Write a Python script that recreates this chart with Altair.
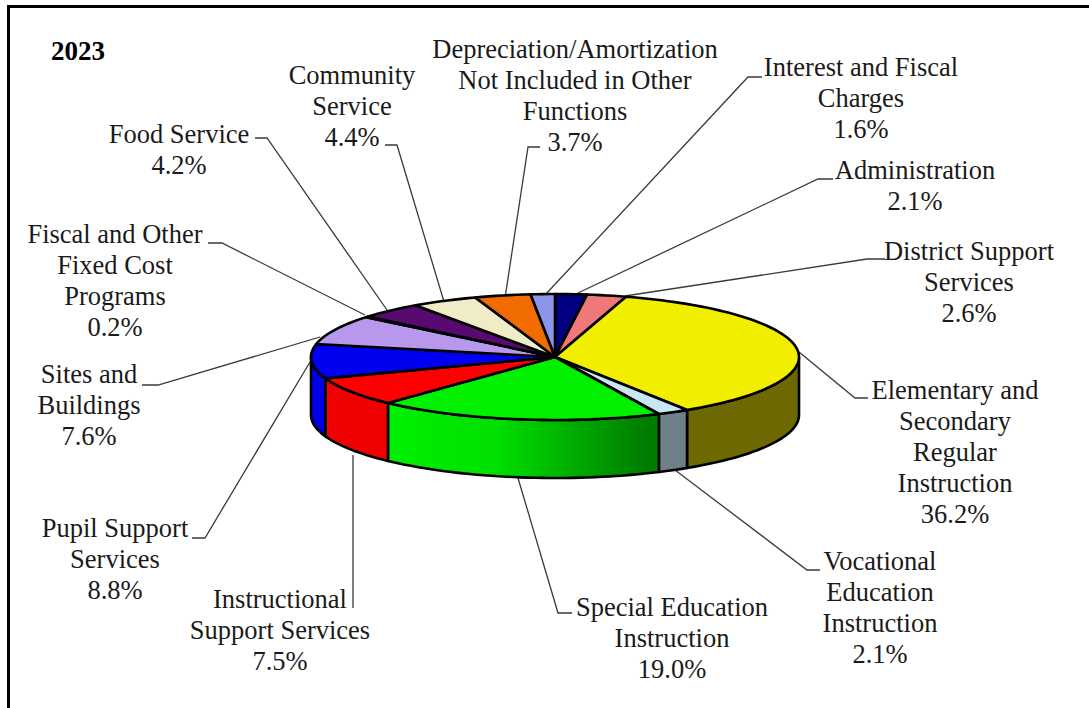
import math
import altair as alt
import pandas as pd

# Shares in pie order, clockwise from twelve o'clock
names = [
    "Administration",
    "District Support\nServices",
    "Elementary and\nSecondary\nRegular\nInstruction",
    "Vocational\nEducation\nInstruction",
    "Special Education\nInstruction",
    "Instructional\nSupport Services",
    "Pupil Support\nServices",
    "Sites and\nBuildings",
    "Fiscal and Other\nFixed Cost\nPrograms",
    "Food Service",
    "Community\nService",
    "Depreciation/Amortization\nNot Included in Other\nFunctions",
    "Interest and Fiscal\nCharges",
]
shares = [2.1, 2.6, 36.2, 2.1, 19.0, 7.5, 8.8, 7.6, 0.2, 4.2, 4.4, 3.7, 1.6]
top_colors = ["#000080", "#F07878", "#F2EE00", "#C8E6F4", "#00F000", "#FF0000", "#0000F0",
              "#B898EC", "#8A2060", "#580A70", "#F0ECC8", "#F06C00", "#8C96E8"]
side_colors = ["#000040", "#803C3C", "#6E6800", "#6C8288", None, "#F00000", "#0000E8",
               "#5C4C76", "#451030", "#2C0538", "#78765F", "#783600", "#464B74"]

# Label centre and first-line top
label_x = [915, 969, 955, 880, 672, 280, 115, 89, 115, 179, 352, 575, 861]
label_y = [158, 239, 378, 549, 595, 587, 516, 362, 222, 122, 63, 37, 55]

# Leader polylines, label end first
leader_x = [[833, 818, 578], [885, 867, 625], [868, 855, 799], [820, 807, 675], [572, 558, 518],
            [353, 353], [192, 205, 310], [142, 158, 320], [208, 222, 365], [255, 267, 387],
            [385, 397, 445], [540, 528, 505], [762, 748, 545]]
leader_y = [[179, 179, 293], [259, 259, 296], [398, 398, 352], [570, 570, 470], [613, 613, 478],
            [608, 455], [538, 538, 362], [385, 385, 337], [243, 243, 315], [138, 138, 310],
            [145, 145, 305], [147, 147, 298], [77, 77, 295]]

CX, CY, RX, RY, DEPTH = 555, 357, 244, 63, 58
W, H = 1089, 708

x_scale = alt.Scale(domain=[0, W], range=[0, W])
y_scale = alt.Scale(domain=[0, H], range=[0, H])
X = alt.X("x:Q", scale=x_scale, axis=None)
Y = alt.Y("y:Q", scale=y_scale, axis=None)
OUTLINE = {"stroke": "#000000", "strokeWidth": 2.6, "strokeJoin": "round"}


def rim(start, end):
    """Points along the ellipse between two cumulative percentages."""
    n = max(2, int((end - start) * 2) + 2)
    pts = []
    for i in range(n):
        a = math.radians((start + (end - start) * i / (n - 1)) * 3.6)
        pts.append((CX + RX * math.sin(a), CY - RY * math.cos(a)))
    return pts


def polygon(points, fill):
    df = pd.DataFrame({"x": [p[0] for p in points], "y": [p[1] for p in points],
                       "i": range(len(points))})
    return alt.Chart(df).mark_line(fill=fill, interpolate="linear", **OUTLINE).encode(
        x=X, y=Y, order="i:Q")


layers = []

# Frame along the top and left edges
layers.append(alt.Chart(pd.DataFrame({"x": [8.5, 8.5, W], "y": [H, 6.5, 6.5], "i": [0, 1, 2]}))
              .mark_line(stroke="#000000", strokeWidth=3).encode(x=X, y=Y, order="i:Q"))

# Leader lines sit behind the pie
for xs, ys in zip(leader_x, leader_y):
    df = pd.DataFrame({"x": xs, "y": ys, "i": range(len(xs))})
    layers.append(alt.Chart(df).mark_line(stroke="#3A3A3A", strokeWidth=1.3).encode(x=X, y=Y, order="i:Q"))

green_side = alt.Gradient(
    gradient="linear", x1=0, x2=1, y1=0, y2=0,
    stops=[alt.GradientStop(color="#00F000", offset=0),
           alt.GradientStop(color="#00E000", offset=0.4),
           alt.GradientStop(color="#007C00", offset=0.95),
           alt.GradientStop(color="#007C00", offset=1)],
)

# Side walls of the front half of the rim
edges = [0.0]
for s in shares:
    edges.append(edges[-1] + s)
for i, (a, b) in enumerate(zip(edges, edges[1:])):
    lo, hi = max(a, 25.0), min(b, 75.0)
    if lo >= hi:
        continue
    top = rim(lo, hi)
    pts = top + [(x, y + DEPTH) for x, y in reversed(top)] + [top[0]]
    layers.append(polygon(pts, green_side if side_colors[i] is None else side_colors[i]))

# Top face, one wedge per share
for i, (a, b) in enumerate(zip(edges, edges[1:])):
    pts = [(CX, CY)] + rim(a, b) + [(CX, CY)]
    layers.append(polygon(pts, top_colors[i]))

# Labels state the share each wedge is drawn from
labels = pd.DataFrame({
    "x": label_x, "y": label_y,
    "t": [f"{n}\n{s:.1f}%" for n, s in zip(names, shares)],
})
layers.append(alt.Chart(labels).mark_text(
    font="Liberation Serif", fontSize=26.5, lineBreak="\n", lineHeight=31,
    align="center", baseline="top", color="#1A1A1A",
).encode(x=X, y=Y, text="t:N"))

layers.append(alt.Chart(pd.DataFrame({"x": [51], "y": [52], "t": ["2023"]})).mark_text(
    font="Liberation Serif", fontSize=27, fontWeight="bold", align="left", baseline="middle", color="#000000",
).encode(x=X, y=Y, text="t:N"))

chart = alt.layer(*layers).properties(
    width=W, height=H, padding=0, autosize=alt.AutoSizeParams(type="none"), background="#FFFFFF",
).configure_view(stroke=None)

chart.save("out.html", embed_options={"renderer": "svg", "actions": False})
